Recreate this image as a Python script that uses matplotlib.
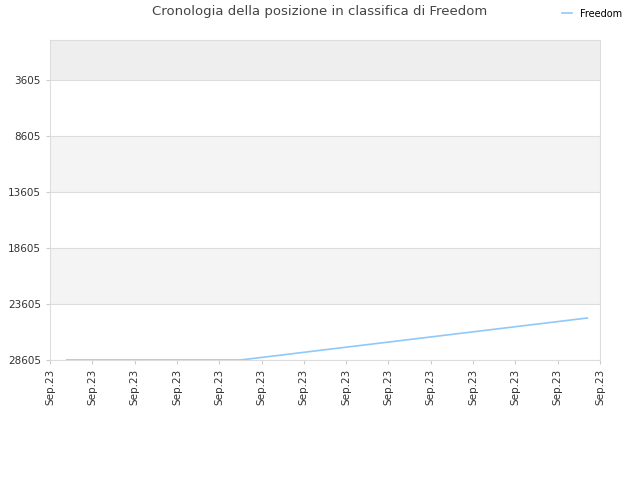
import matplotlib
matplotlib.use("Agg")
import matplotlib.pyplot as plt

x_pos = [0.4 + 0.41 * i for i in range(31)]
ranks = [28605] * 11 + [28418, 28230, 28043, 27855, 27668, 27480, 27293, 27105, 26918, 26730,
                        26543, 26355, 26168, 25980, 25793, 25605, 25418, 25230, 25043, 24855]
yticks = [3605, 8605, 13605, 18605, 23605, 28605]
xlabels = ["Sep.23"] * 14

fig = plt.figure(figsize=(6.4, 4.8), dpi=100)
ax = fig.add_axes([50/640, 1-360/480, 550/640, 320/480])
ax.set_ylim(28605, 34)
ax.set_xlim(0, 13)
bands = [(34, 3605, "#eeeeee"), (8605, 13605, "#f4f4f4"), (18605, 23605, "#f4f4f4")]
for a, b, c in bands:
    ax.axhspan(a, b, color=c, zorder=0, lw=0)
for t in yticks:
    ax.axhline(t, color="#dddddd", lw=0.8, zorder=1)
ax.plot(x_pos, ranks, color="#90c8f8", lw=1.2, label="Freedom", zorder=2)
ax.set_yticks(yticks)
ax.set_yticklabels([str(t) for t in yticks], fontsize=7.5, color="#333333")
ax.set_xticks(range(14))
ax.set_xticklabels(xlabels, rotation=90, fontsize=7.5, color="#333333")
ax.tick_params(length=3, color="#cccccc")
for s in ax.spines.values():
    s.set_color("#dddddd")
fig.text(0.5, 1-12/480, "Cronologia della posizione in classifica di Freedom",
         ha="center", va="center", fontsize=9.5, color="#444444")
fig.legend(loc="upper right", bbox_to_anchor=(0.985, 1.0), frameon=False, fontsize=7,
           handlelength=1.0)
fig.savefig("out.png", dpi=100)
